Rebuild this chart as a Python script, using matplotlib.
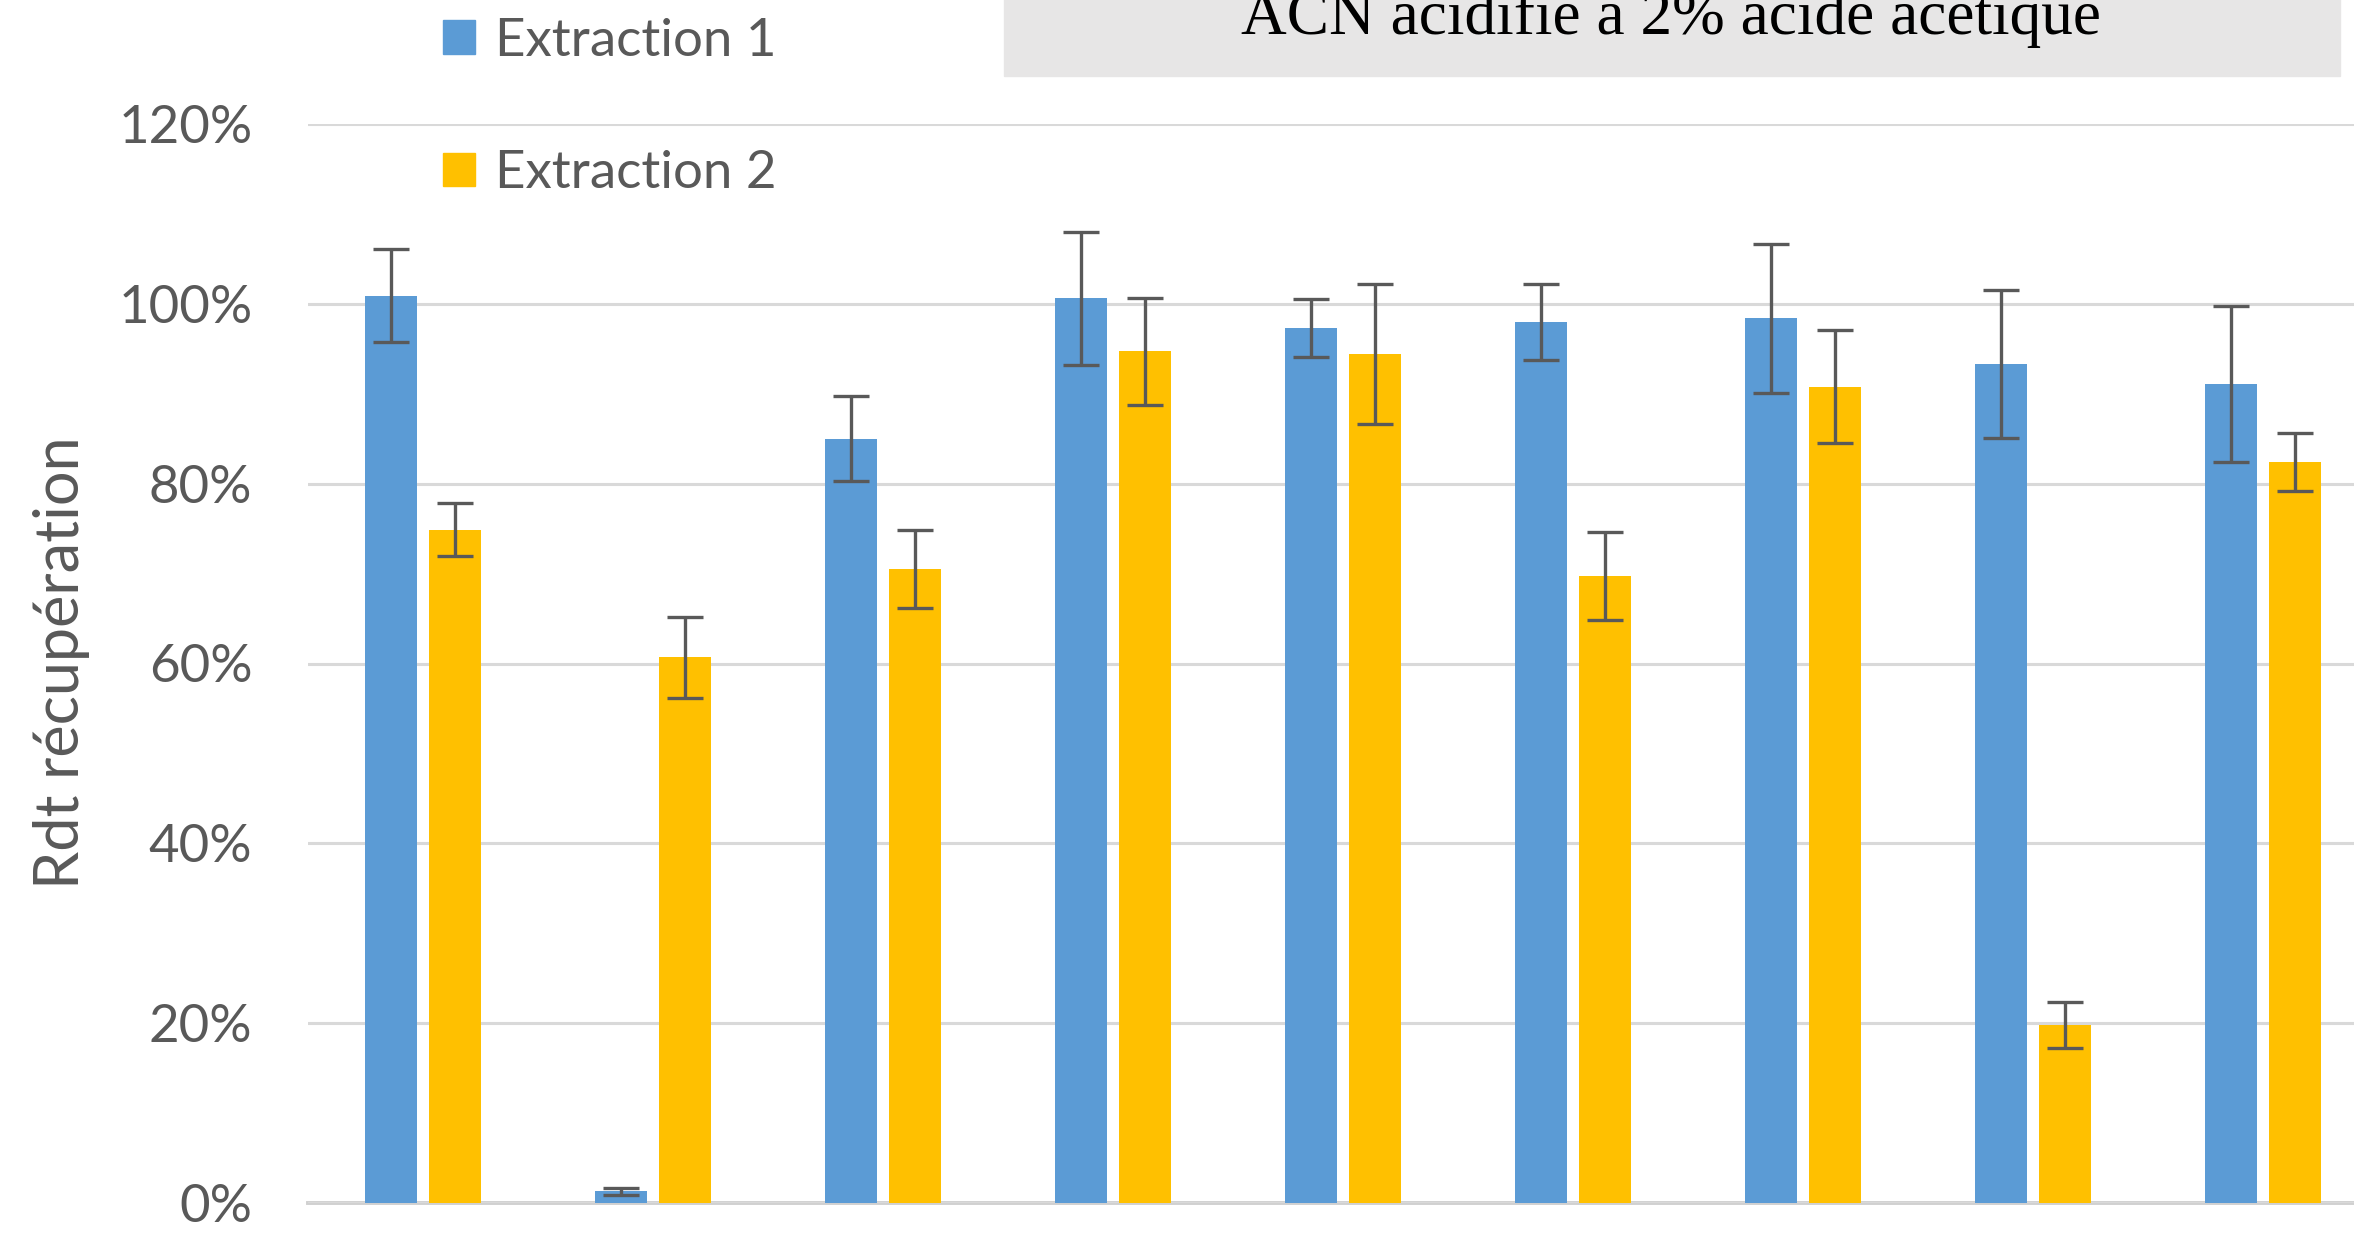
import numpy as np
import matplotlib.pyplot as plt
from matplotlib.patches import Patch, Rectangle

# Rendement de recuperation (fraction), 9 composes (noms coupes dans l'image)
extraction1 = [1.009, 0.013, 0.850, 1.006, 0.973, 0.980, 0.984, 0.933, 0.911]
extraction1_err = [0.052, 0.004, 0.047, 0.074, 0.032, 0.042, 0.083, 0.082, 0.087]
extraction2 = [0.749, 0.607, 0.705, 0.947, 0.944, 0.697, 0.908, 0.198, 0.824]
extraction2_err = [0.029, 0.045, 0.043, 0.060, 0.078, 0.049, 0.063, 0.026, 0.032]

yticks = [0, 0.2, 0.4, 0.6, 0.8, 1.0, 1.2]
ytick_labels = ["0%", "20%", "40%", "60%", "80%", "100%", "120%"]

titre = "ACN acidifié à 2% acide acétique"

blue = "#5B9BD5"
yellow = "#FFC000"
gris = "#595959"

W, H = 2354, 1258
fig = plt.figure(figsize=(W / 100, H / 100), dpi=100)
ax = fig.add_axes([308 / W, 55 / H, 2070 / W, 1079 / H])

x = np.arange(len(extraction1))
bw = 0.226
off = 0.141

ax.bar(x - off, extraction1, bw, color=blue, zorder=2)
ax.bar(x + off, extraction2, bw, color=yellow, zorder=2)
ax.errorbar(x - off, extraction1, yerr=extraction1_err, fmt="none",
            ecolor=gris, elinewidth=2.4, capsize=13, capthick=2.4, zorder=3)
ax.errorbar(x + off, extraction2, yerr=extraction2_err, fmt="none",
            ecolor=gris, elinewidth=2.4, capsize=13, capthick=2.4, zorder=3)

ax.set_xlim(-0.5, len(x) - 0.5)
ax.set_ylim(0, 1.2)
ax.set_yticks(yticks)
ax.set_yticklabels(ytick_labels, fontsize=38, color=gris, family="Lato")
ax.tick_params(axis="y", length=0, pad=40)
ax.set_xticks([])
ax.grid(axis="y", color="#D9D9D9", linewidth=2.2, zorder=0)
for s in ["top", "right", "left"]:
    ax.spines[s].set_visible(False)
ax.spines["bottom"].set_color("#D0D0D0")
ax.spines["bottom"].set_linewidth(2.8)
ax.spines["bottom"].set_zorder(1)

fig.text(62 / W, 1 - 663 / H, "Rdt récupération", rotation=90, ha="center",
         va="center", fontsize=44, color=gris, family="Lato")

handles = [Patch(color=blue, label="Extraction 1"),
           Patch(color=yellow, label="Extraction 2")]
fig.legend(handles=handles, loc="upper left", bbox_to_anchor=(443 / W, 0.986),
           frameon=False, prop={"family": "Lato", "size": 38}, labelcolor=gris,
           handlelength=0.606, handleheight=0.606, handletextpad=0.38,
           labelspacing=1.62, borderpad=0, borderaxespad=0)

# bandeau titre (coupe en haut de l'image)
fig.patches.append(Rectangle((1004 / W, 1 - 76 / H), 1336 / W, 0.2,
                             transform=fig.transFigure, color="#E7E6E6",
                             zorder=0))
fig.text(1671 / W, 1 - 34 / H, titre, ha="center", va="baseline",
         fontsize=45.5, family="Liberation Serif", color="black")

fig.savefig("out.png", dpi=100)
